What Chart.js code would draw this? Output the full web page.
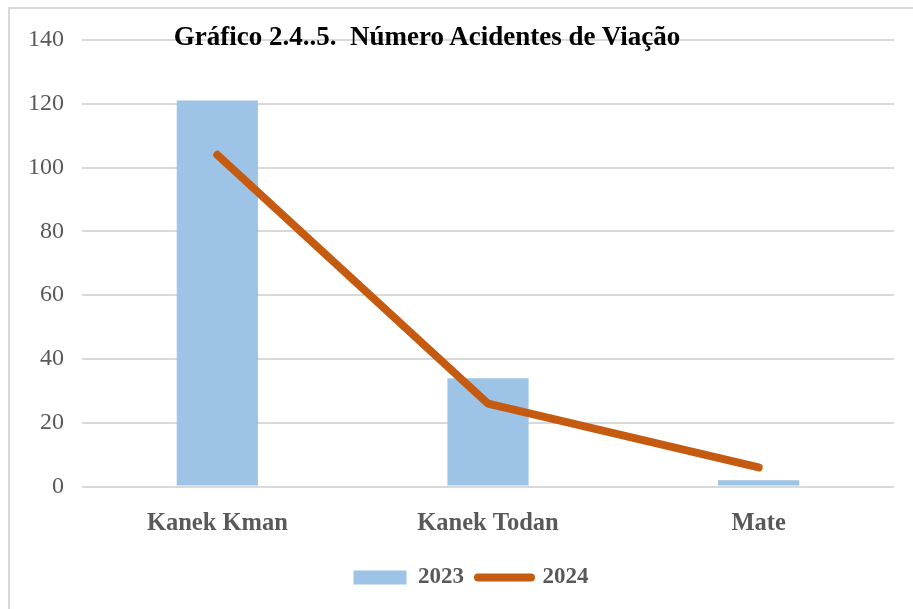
<!DOCTYPE html>
<html>
<head>
<meta charset="utf-8">
<script src="https://cdn.jsdelivr.net/npm/chart.js@4.4.1/dist/chart.umd.min.js"></script>
<style>
  html, body { margin: 0; padding: 0; background: #fff; overflow: hidden; }
  #wrap { position: relative; width: 913px; height: 609px; }
  #frame {
    position: absolute; left: 8px; top: 7px; width: 960px; height: 700px;
    border-left: 2px solid #d9d9d9; border-top: 2px solid #d9d9d9;
  }
  #titulo {
    position: absolute; left: 0; top: 21px; width: 854px; text-align: center;
    font-family: 'Liberation Serif', 'Times New Roman', serif;
    font-weight: bold; font-size: 27px; color: #000;
  }
  canvas { position: absolute; left: 0; top: 0; }
</style>
</head>
<body>
<div id="wrap">
  <div id="frame"></div>
  <canvas id="grafico" width="913" height="609"></canvas>
  <div id="titulo">Gráfico 2.4..5.&nbsp; Número Acidentes de Viação</div>
</div>
<script>
// dados
const categorias = ['Kanek Kman', 'Kanek Todan', 'Mate'];
const valores2023 = [121, 34, 2];
const valores2024 = [104, 26, 6];
const yMin = 0, yMax = 140, yPasso = 20;

const corTexto = '#595959';
const fonte = "'Liberation Serif', 'Times New Roman', serif";

// a legenda do original fica um pouco à direita do centro
const deslocaLegenda = {
  id: 'deslocaLegenda',
  afterLayout(chart) {
    chart.legend.left += 24;
    chart.legend.right += 24;
  }
};

const ctx = document.getElementById('grafico').getContext('2d');
new Chart(ctx, {
  data: {
    labels: categorias,
    datasets: [
      {
        type: 'line',
        label: '2024',
        data: valores2024,
        borderColor: '#C55A11',
        backgroundColor: '#C55A11',
        borderWidth: 8,
        borderCapStyle: 'round',
        borderJoinStyle: 'round',
        pointRadius: 0,
        pointStyle: 'line',
        tension: 0,
        order: 1
      },
      {
        type: 'bar',
        label: '2023',
        data: valores2023,
        backgroundColor: '#9DC3E6',
        borderWidth: 0,
        pointStyle: 'rect',
        categoryPercentage: 1,
        barPercentage: 0.3,
        order: 2
      }
    ]
  },
  plugins: [deslocaLegenda],
  options: {
    responsive: false,
    animation: false,
    layout: { padding: { top: 40, left: 0, right: 19, bottom: 10 } },
    plugins: {
      title: { display: false },
      tooltip: { enabled: false },
      legend: {
        display: true,
        position: 'bottom',
        reverse: true,
        labels: {
          usePointStyle: true,
          pointStyleWidth: 53,
          boxHeight: 14,
          padding: 14,
          color: corTexto,
          font: { family: fonte, size: 23, weight: 'bold' },
          generateLabels: chart => {
            const itens = Chart.defaults.plugins.legend.labels.generateLabels(chart);
            itens.forEach(it => { it.lineCap = 'round'; });
            return itens;
          }
        }
      }
    },
    scales: {
      x: {
        grid: { display: false },
        border: { display: false },
        ticks: {
          color: corTexto,
          padding: 14,
          font: { family: fonte, size: 24.5, weight: 'bold' }
        }
      },
      y: {
        min: yMin,
        max: yMax,
        afterFit: axis => { axis.width = 82; },
        border: { display: false },
        grid: { color: '#d9d9d9', lineWidth: 2, drawTicks: false },
        ticks: {
          stepSize: yPasso,
          color: corTexto,
          padding: 18,
          font: { family: fonte, size: 24 }
        }
      }
    }
  }
});
</script>
</body>
</html>
